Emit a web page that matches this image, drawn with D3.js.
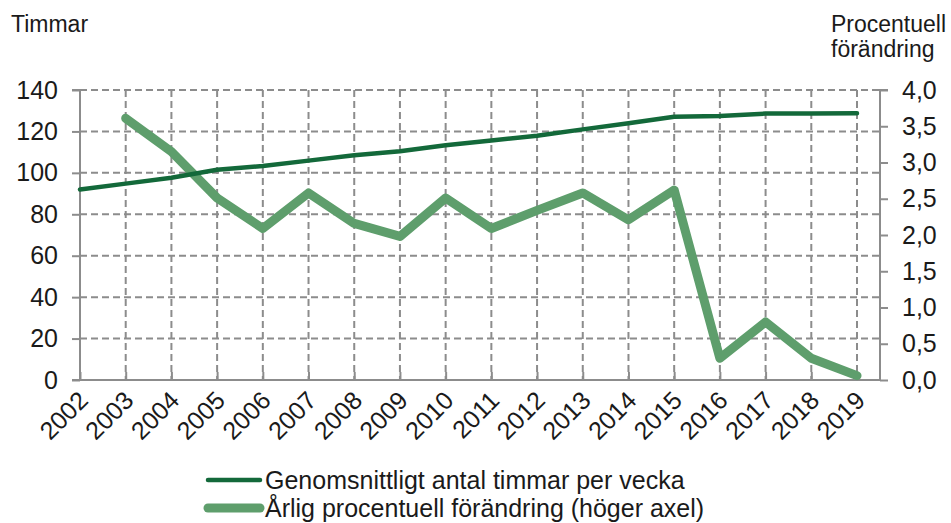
<!DOCTYPE html>
<html>
<head>
<meta charset="utf-8">
<script src="https://cdn.jsdelivr.net/npm/d3@7"></script>
<style>
  body { margin: 0; background: #fff; }
  text { font-family: "Liberation Sans", Arial, sans-serif; fill: #1a1a1a; }
</style>
</head>
<body>
<div id="chart"></div>
<script>
// data
var years = [2002, 2003, 2004, 2005, 2006, 2007, 2008, 2009, 2010,
             2011, 2012, 2013, 2014, 2015, 2016, 2017, 2018, 2019];
var hours = [92.0, 94.8, 97.6, 101.5, 103.3, 105.9, 108.5, 110.4, 113.3,
             115.6, 117.9, 121.0, 123.9, 127.1, 127.4, 128.6, 128.7, 128.8];
// yearly change starts in 2003
var changeYears = years.slice(1);
var change = [3.61, 3.15, 2.51, 2.09, 2.58, 2.16, 1.98, 2.51,
              2.09, 2.34, 2.58, 2.21, 2.62, 0.30, 0.80, 0.30, 0.06];
var leftTicks = [0, 20, 40, 60, 80, 100, 120, 140];
var rightTicks = [0, 0.5, 1, 1.5, 2, 2.5, 3, 3.5, 4];
var legendLabels = ["Genomsnittligt antal timmar per vecka",
                    "Årlig procentuell förändring (höger axel)"];

var svgWidth = 951;
var svgHeight = 523;

var margin = { top: 90, left: 80, right: 71, bottom: 143 };
var width = svgWidth - margin.left - margin.right;   // 800
var height = svgHeight - margin.top - margin.bottom; // 290

var darkGreen = "#13693a";
var lightGreen = "#5e9e6c";
var gridColor = "#8c8c8c";

var svg = d3.select("#chart")
  .append("svg")
  .attr("width", svgWidth)
  .attr("height", svgHeight);

var chartGroup = svg.append("g")
  .attr("transform", `translate(${margin.left}, ${margin.top})`);

// scales
var xScale = d3.scalePoint()
  .domain(years)
  .range([0, width - 23]);

var yLeft = d3.scaleLinear()
  .domain([0, 140])
  .range([height, 0]);

var yRight = d3.scaleLinear()
  .domain([0, 4])
  .range([height, 0]);

// horizontal dashed grid
chartGroup.append("g")
  .selectAll("line")
  .data(leftTicks.filter(d => d > 0))
  .enter()
  .append("line")
  .attr("x1", 0)
  .attr("x2", width)
  .attr("y1", d => yLeft(d))
  .attr("y2", d => yLeft(d))
  .attr("stroke", gridColor)
  .attr("stroke-width", 2)
  .attr("stroke-dasharray", "7,4");

// vertical dashed grid
chartGroup.append("g")
  .selectAll("line")
  .data(years.slice(1))
  .enter()
  .append("line")
  .attr("x1", d => xScale(d))
  .attr("x2", d => xScale(d))
  .attr("y1", 0)
  .attr("y2", height)
  .attr("stroke", gridColor)
  .attr("stroke-width", 2)
  .attr("stroke-dasharray", "7,4");

// left axis
var leftAxis = d3.axisLeft(yLeft)
  .tickValues(leftTicks)
  .tickSize(8)
  .tickPadding(14)
  .tickFormat(d3.format("d"));

var leftG = chartGroup.append("g").call(leftAxis);

// right axis
var rightAxis = d3.axisRight(yRight)
  .tickValues(rightTicks)
  .tickSize(8)
  .tickPadding(14)
  .tickFormat(d => d3.format(".1f")(d).replace(".", ","));

var rightG = chartGroup.append("g")
  .attr("transform", `translate(${width}, 0)`)
  .call(rightAxis);

// bottom axis, ticks pointing up
var bottomAxis = d3.axisBottom(xScale)
  .tickSize(-8)
  .tickSizeOuter(0)
  .tickFormat(d => d);

var bottomG = chartGroup.append("g")
  .attr("transform", `translate(0, ${height})`)
  .call(bottomAxis);

bottomG.select(".domain").attr("d", `M-8,0H${width}`);

bottomG.selectAll("text")
  .attr("y", 0)
  .attr("dy", 0)
  .attr("transform", "translate(9, 22) rotate(-45)")
  .style("text-anchor", "end");

[leftG, rightG, bottomG].forEach(function(g) {
  g.selectAll(".domain").attr("stroke", gridColor).attr("stroke-width", 2);
  g.selectAll(".tick line").attr("stroke", gridColor).attr("stroke-width", 2);
  g.selectAll("text")
    .attr("fill", "#1a1a1a")
    .style("font-family", "Liberation Sans, Arial, sans-serif")
    .style("font-size", "25px");
});

leftG.select(".domain").attr("d", `M-8,0H0V${height}`);
rightG.select(".domain").attr("d", `M8,0H0V${height}`);

// lines
var hoursLine = d3.line()
  .x((d, i) => xScale(years[i]))
  .y(d => yLeft(d));

var changeLine = d3.line()
  .x((d, i) => xScale(changeYears[i]))
  .y(d => yRight(d));

chartGroup.append("path")
  .datum(change)
  .attr("d", changeLine)
  .attr("fill", "none")
  .attr("stroke", lightGreen)
  .attr("stroke-width", 9)
  .attr("stroke-linecap", "round")
  .attr("stroke-linejoin", "round");

chartGroup.append("path")
  .datum(hours)
  .attr("d", hoursLine)
  .attr("fill", "none")
  .attr("stroke", darkGreen)
  .attr("stroke-width", 4.5)
  .attr("stroke-linecap", "round")
  .attr("stroke-linejoin", "round");

// axis titles
svg.append("text")
  .attr("x", 11)
  .attr("y", 32)
  .style("font-size", "23px")
  .text("Timmar");

svg.append("text")
  .attr("x", 831)
  .attr("y", 32)
  .style("font-size", "23px")
  .text("Procentuell");

svg.append("text")
  .attr("x", 831)
  .attr("y", 57)
  .style("font-size", "23px")
  .text("förändring");

// legend
var legend = svg.append("g");

var legendItems = legend.selectAll("g")
  .data(legendLabels)
  .enter()
  .append("g")
  .attr("transform", (d, i) => `translate(206, ${480 + i * 28})`);

legendItems.append("line")
  .attr("x1", 2)
  .attr("x2", 54)
  .attr("y1", 0)
  .attr("y2", 0)
  .attr("stroke", (d, i) => i === 0 ? darkGreen : lightGreen)
  .attr("stroke-width", (d, i) => i === 0 ? 4.5 : 9)
  .attr("stroke-linecap", "round");

legendItems.append("text")
  .attr("x", 59)
  .attr("y", 0)
  .attr("dy", "0.36em")
  .style("font-size", "25px")
  .text(d => d);
</script>
</body>
</html>
